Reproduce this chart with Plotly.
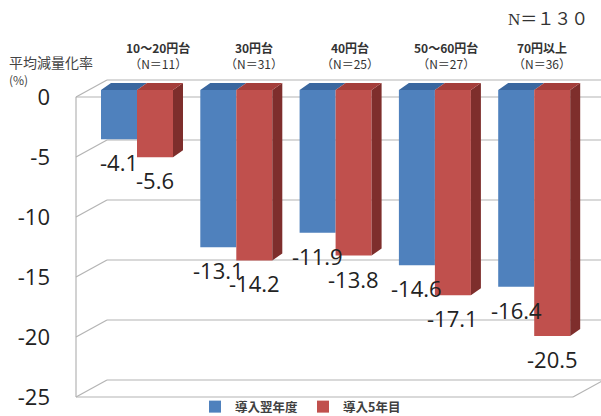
import plotly.graph_objects as go

# ---- data ----
categories = ["10～20円台", "30円台", "40円台", "50～60円台", "70円以上"]
n_labels = ["（N＝11）", "（N＝31）", "（N＝25）", "（N＝27）", "（N＝36）"]
series_names = ["導入翌年度", "導入5年目"]
next_year = [-4.1, -13.1, -11.9, -14.6, -16.4]
fifth_year = [-5.6, -14.2, -13.8, -17.1, -20.5]
y_ticks = [0, -5, -10, -15, -20, -25]
total_label = "N＝１３０"
y_title = "平均減量化率"
y_unit = "(%)"

# ---- geometry (pixels) ----
W, H = 601, 416
TOP, BOT = 70, 400          # plot area top / bottom
GX0, GDX = 137, 99.3        # x pixel of blue/red boundary of group 0, group spacing
BAR_PX = 36
Y0_BAR, YPX = 90, 12.0      # bars: zero line pixel, pixels per unit
Y0_LAB = 97                 # tick labels: zero line pixel
DEPTH_X, DEPTH_Y = 10, 7    # bar depth offset
WALL_DX, WALL_DY = 31, 17   # side wall depth
XFL, XFR = 76, 573          # front left / front right of floor

xr = [-GX0 / GDX, (W - GX0) / GDX]
yr = [-(BOT - Y0_BAR) / YPX, (Y0_BAR - TOP) / YPX]
yr2 = [-(BOT - Y0_LAB) / YPX, (Y0_LAB - TOP) / YPX]
bw = BAR_PX / GDX
ddx = DEPTH_X / GDX
ddy = DEPTH_Y / YPX
idx = list(range(len(categories)))

BLUE, BLUE_TOP = "#4f81bd", "#3a679f"
RED, RED_TOP, RED_SIDE = "#c0504d", "#a43e3b", "#7e2e2c"
GRID = "#b4b4b4"
FONT = "Open Sans"
CJK = "Noto Sans CJK JP"


def px(x):
    return x / W


def py(y):
    return (BOT - y) / (BOT - TOP)


fig = go.Figure()

fig.add_trace(go.Bar(x=idx, y=next_year, width=bw, offset=-bw, name=series_names[0],
                     marker=dict(color=BLUE, line=dict(width=0))))
fig.add_trace(go.Bar(x=idx, y=fifth_year, width=bw, offset=0, name=series_names[1],
                     marker=dict(color=RED, line=dict(width=0))))


# top faces and side faces (3D look), built from data
def poly(pts_list):
    xs, ys = [], []
    for pts in pts_list:
        for (a, b) in pts:
            xs.append(a); ys.append(b)
        xs.append(pts[0][0]); ys.append(pts[0][1])
        xs.append(None); ys.append(None)
    return xs, ys


blue_top = [[(i - bw, 0), (i, 0), (i + ddx, ddy), (i - bw + ddx, ddy)] for i in idx]
red_top = [[(i, 0), (i + bw, 0), (i + bw + ddx, ddy), (i + ddx, ddy)] for i in idx]
red_side = [[(i + bw, 0), (i + bw + ddx, ddy), (i + bw + ddx, v + ddy), (i + bw, v)]
            for i, v in zip(idx, fifth_year)]
for pts, col in [(red_side, RED_SIDE), (blue_top, BLUE_TOP), (red_top, RED_TOP)]:
    xs, ys = poly(pts)
    fig.add_trace(go.Scatter(x=xs, y=ys, mode="lines", fill="toself", fillcolor=col,
                             line=dict(width=0, color=col), showlegend=False,
                             hoverinfo="skip"))

# axis frame / gridlines (perspective)
shapes = []
wall_dv = WALL_DY / YPX
line = dict(color=GRID, width=1.2)
for v in y_ticks:
    shapes.append(dict(type="line", xref="paper", yref="y2", x0=px(XFL), y0=v,
                       x1=px(XFL + WALL_DX), y1=v + wall_dv, line=line, layer="below"))
    shapes.append(dict(type="line", xref="paper", yref="y2", x0=px(XFL + WALL_DX), y0=v + wall_dv,
                       x1=1, y1=v + wall_dv, line=line, layer="below"))
shapes.append(dict(type="line", xref="paper", yref="y2", x0=px(XFL), y0=y_ticks[0],
                   x1=px(XFL), y1=y_ticks[-1], line=line, layer="below"))
shapes.append(dict(type="line", xref="paper", yref="y2", x0=px(XFL), y0=y_ticks[-1],
                   x1=px(XFR), y1=y_ticks[-1], line=line, layer="below"))
shapes.append(dict(type="line", xref="paper", yref="y2", x0=px(XFR), y0=y_ticks[-1],
                   x1=px(XFR + WALL_DX), y1=y_ticks[-1] + wall_dv, line=line, layer="below"))
shapes.append(dict(type="line", xref="paper", yref="y2", x0=px(XFL), y0=0,
                   x1=1, y1=0, line=line, layer="below"))

annotations = []
# value labels
for i, v in zip(idx, next_year):
    annotations.append(dict(x=i - bw / 2, y=v, xref="x", yref="y", text=f"{v:.1f}",
                            showarrow=False, yshift=-23, yanchor="middle", xanchor="center",
                            font=dict(family=FONT, size=22, color="#222222")))
for i, v in zip(idx, fifth_year):
    annotations.append(dict(x=i + bw / 2, y=v, xref="x", yref="y", text=f"{v:.1f}",
                            showarrow=False, yshift=-23, yanchor="middle", xanchor="center",
                            font=dict(family=FONT, size=22, color="#222222")))
# category headers (two lines in one text)
HX0, HDX = 158, 96
for i, (c, n) in enumerate(zip(categories, n_labels)):
    annotations.append(dict(x=px(HX0 + HDX * i), y=py(56), xref="paper", yref="paper",
                            text=f"<b>{c}</b><br>{n}", showarrow=False, yanchor="middle",
                            xanchor="center", align="center",
                            font=dict(family=CJK, size=12, color="#333333")))

annotations.append(dict(x=px(7), y=py(62), xref="paper", yref="paper",
                        text=y_title, showarrow=False, xanchor="left", yanchor="middle",
                        font=dict(family=CJK, size=14, color="#444444")))
annotations.append(dict(x=px(7), y=py(80), xref="paper", yref="paper",
                        text=y_unit, showarrow=False, xanchor="left", yanchor="middle",
                        font=dict(family=CJK, size=12, color="#444444")))
annotations.append(dict(x=px(590), y=py(19), xref="paper", yref="paper",
                        text=total_label, showarrow=False, xanchor="right", yanchor="middle",
                        font=dict(family="Liberation Serif, " + CJK, size=17, color="#333333")))

fig.update_layout(
    width=W, height=H,
    margin=dict(l=0, r=0, t=TOP, b=H - BOT, autoexpand=False),
    paper_bgcolor="white", plot_bgcolor="white",
    barmode="overlay",
    showlegend=True,
    legend=dict(orientation="h", x=0.5, xanchor="center", y=py(407),
                yanchor="middle", font=dict(family=CJK, size=12.5, color="#404040", weight="bold"),
                itemwidth=30, bgcolor="rgba(0,0,0,0)"),
    xaxis=dict(range=xr, visible=False, fixedrange=True),
    yaxis=dict(range=yr, visible=False, fixedrange=True),
    yaxis2=dict(range=yr2, overlaying="y", anchor="free", position=px(50), side="left",
                tickvals=y_ticks, ticktext=[str(t) for t in y_ticks], showgrid=False,
                zeroline=False, showline=False, ticks="",
                tickfont=dict(family=FONT, size=22, color="#222222")),
    shapes=shapes,
    annotations=annotations,
)
# dummy trace to activate yaxis2
fig.add_trace(go.Scatter(x=[None], y=[None], yaxis="y2", showlegend=False, hoverinfo="skip"))

fig.write_html("out.html")
